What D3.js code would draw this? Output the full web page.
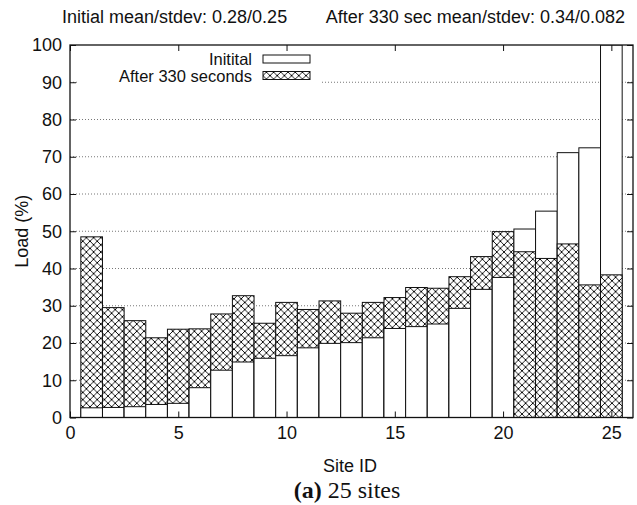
<!DOCTYPE html>
<html>
<head>
<meta charset="utf-8">
<script src="https://cdn.jsdelivr.net/npm/d3@7"></script>
<style>
body { margin: 0; background: #fff; }
text { font-family: "Liberation Sans", Arial, sans-serif; fill: #111; }
</style>
</head>
<body>
<svg width="637" height="505"></svg>
<script>
var sites = d3.range(1, 26);
var initial = [2.6, 2.7, 2.9, 3.5, 3.8, 8.0, 12.7, 14.9, 15.9, 16.6, 18.7, 19.9, 20.1, 21.4, 23.9, 24.4, 25.1, 29.3, 34.4, 37.6, 50.6, 55.4, 71.1, 72.4, 100];
var after = [48.5, 29.5, 26.0, 21.4, 23.7, 23.8, 27.8, 32.7, 25.3, 30.9, 29.0, 31.3, 28.0, 30.9, 32.2, 34.9, 34.7, 37.8, 43.2, 49.9, 44.5, 42.7, 46.6, 35.6, 38.3];
var yTicks = [0, 10, 20, 30, 40, 50, 60, 70, 80, 90, 100];
var xTicks = [0, 5, 10, 15, 20, 25];
var seriesNames = ["Initital", "After 330 seconds"];
var topNotes = ["Initial mean/stdev: 0.28/0.25", "After 330 sec mean/stdev: 0.34/0.082"];

var svg = d3.select('svg');
var pLeft = 70, pRight = 633, pTop = 45, pBottom = 417.5;

var x = d3.scaleLinear().domain([0, 26]).range([pLeft, pRight]);
var y = d3.scaleLinear().domain([0, 100]).range([pBottom, pTop]);

var defs = svg.append('defs');
var pat = defs.append('pattern')
	.attr('id', 'hatch')
	.attr('patternUnits', 'userSpaceOnUse')
	.attr('width', 7.2)
	.attr('height', 7.2);
pat.append('rect').attr('width', 7.2).attr('height', 7.2).attr('fill', '#fff');
pat.append('path')
	.attr('d', 'M0,0L7.2,7.2M0,7.2L7.2,0')
	.attr('stroke', '#000')
	.attr('stroke-width', 0.9);

defs.append('clipPath').attr('id', 'plot')
	.append('rect')
	.attr('x', pLeft).attr('y', pTop)
	.attr('width', pRight - pLeft).attr('height', pBottom - pTop);

// grid
svg.append('g')
	.selectAll('line')
	.data(yTicks.slice(1, -1))
	.enter()
	.append('line')
	.attr('x1', pLeft)
	.attr('x2', pRight)
	.attr('y1', function(d) { return y(d); })
	.attr('y2', function(d) { return y(d); })
	.attr('stroke', '#777')
	.attr('stroke-width', 1)
	.attr('stroke-dasharray', '1,2');

// bars: taller one first, shorter one on top
var bars = [];
sites.forEach(function(s, i) {
	var a = {s: s, v: initial[i], fill: '#fff'};
	var b = {s: s, v: after[i], fill: 'url(#hatch)'};
	if (a.v >= b.v) { bars.push(a, b); } else { bars.push(b, a); }
});

svg.append('g')
	.attr('clip-path', 'url(#plot)')
	.selectAll('rect')
	.data(bars)
	.enter()
	.append('rect')
	.attr('x', function(d) { return x(d.s - 0.5); })
	.attr('y', function(d) { return y(d.v); })
	.attr('width', function(d) { return x(d.s + 0.5) - x(d.s - 0.5); })
	.attr('height', function(d) { return y(0) - y(d.v); })
	.attr('fill', function(d) { return d.fill; })
	.attr('stroke', '#111')
	.attr('stroke-width', 1);

// legend (opaque key)
svg.append('rect')
	.attr('x', 77).attr('y', 50)
	.attr('width', 243).attr('height', 36)
	.attr('fill', '#fff');

var legend = svg.append('g');
seriesNames.forEach(function(n, i) {
	var ly = 59 + i * 16.5;
	legend.append('text')
		.attr('x', 252)
		.attr('y', ly + 6)
		.attr('text-anchor', 'end')
		.style('font-size', '16.5px')
		.text(n);
	legend.append('rect')
		.attr('x', 263).attr('y', ly - 4)
		.attr('width', 47).attr('height', 8)
		.attr('fill', i === 0 ? '#fff' : 'url(#hatch)')
		.attr('stroke', '#111')
		.attr('stroke-width', 1);
});

// axes
var yAxis = d3.axisLeft(y).tickValues(yTicks).tickSize(-6).tickPadding(8);
var yg = svg.append('g').attr('transform', 'translate(' + pLeft + ',0)').call(yAxis);
yg.select('.domain').remove();
yg.selectAll('text').style('font-size', '18px');

var yAxisR = d3.axisRight(y).tickValues(yTicks).tickSize(-6).tickFormat('');
var yr = svg.append('g').attr('transform', 'translate(' + pRight + ',0)').call(yAxisR);
yr.select('.domain').remove();

var xAxis = d3.axisBottom(x).tickValues(xTicks).tickSize(-6).tickPadding(9);
var xg = svg.append('g').attr('transform', 'translate(0,' + pBottom + ')').call(xAxis);
xg.select('.domain').remove();
xg.selectAll('text').style('font-size', '18px');

var xAxisT = d3.axisTop(x).tickValues(xTicks).tickSize(-6).tickFormat('');
var xt = svg.append('g').attr('transform', 'translate(0,' + pTop + ')').call(xAxisT);
xt.select('.domain').remove();

svg.selectAll('.tick line').attr('stroke', '#111');

svg.append('rect')
	.attr('x', pLeft).attr('y', pTop)
	.attr('width', pRight - pLeft).attr('height', pBottom - pTop)
	.attr('fill', 'none')
	.attr('stroke', '#111')
	.attr('stroke-width', 1.3);

// labels
svg.append('text')
	.attr('transform', 'translate(28,' + ((pTop + pBottom) / 2) + ') rotate(-90)')
	.attr('text-anchor', 'middle')
	.style('font-size', '18px')
	.text('Load (%)');

svg.append('text')
	.attr('x', 350)
	.attr('y', 472)
	.attr('text-anchor', 'middle')
	.style('font-size', '18px')
	.text('Site ID');

svg.append('text')
	.attr('x', 62).attr('y', 23)
	.style('font-size', '18px')
	.text(topNotes[0]);
svg.append('text')
	.attr('x', 625).attr('y', 23)
	.attr('text-anchor', 'end')
	.style('font-size', '18px')
	.text(topNotes[1]);

var cap = svg.append('text')
	.attr('x', 347)
	.attr('y', 498)
	.attr('text-anchor', 'middle')
	.style('font-family', '"Liberation Serif", "Times New Roman", serif')
	.style('font-size', '24px');
cap.append('tspan').style('font-weight', 'bold').text('(a)');
cap.append('tspan').text(' 25 sites');
</script>
</body>
</html>
